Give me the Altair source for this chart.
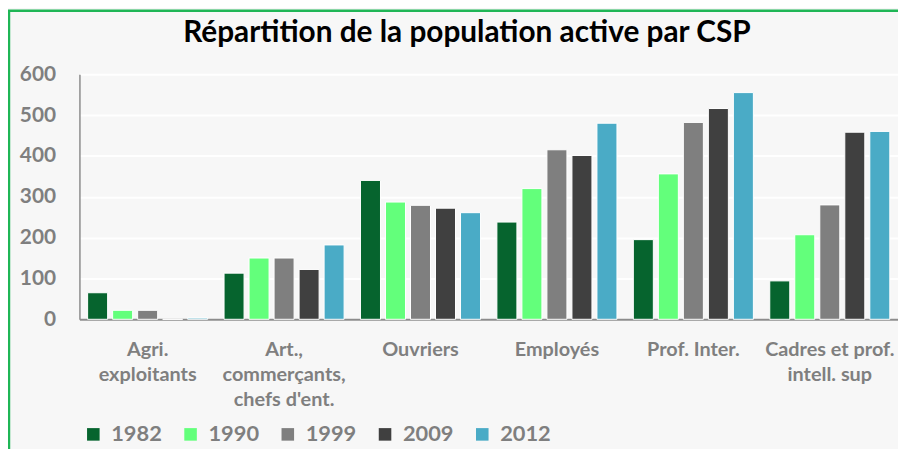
import altair as alt
import pandas as pd

categories = ["Agri.|exploitants", "Art.,|commerçants,|chefs d'ent.", "Ouvriers",
              "Employés", "Prof. Inter.", "Cadres et prof.|intell. sup"]
years = ["1982", "1990", "1999", "2009", "2012"]
v1982 = [65, 113, 340, 238, 195, 94]
v1990 = [22, 150, 287, 320, 356, 207]
v1999 = [22, 150, 279, 415, 482, 280]
v2009 = [0, 122, 272, 401, 516, 458]
v2012 = [3, 182, 261, 480, 555, 460]
colors = ["#06642e", "#63ff7b", "#7f7f7f", "#404040", "#4aabc6"]

series = [v1982, v1990, v1999, v2009, v2012]
rows = []
for y, vals in zip(years, series):
    for c, v in zip(categories, vals):
        rows.append({"cat": c, "year": y, "value": v})
df = pd.DataFrame(rows)

FONT = "Lato"
W, H = 825, 247

bars = alt.Chart(df).mark_bar(stroke="white", strokeWidth=1).encode(
    x=alt.X("cat:N", sort=categories, title=None,
            scale=alt.Scale(paddingInner=0.12, paddingOuter=0.06),
            axis=alt.Axis(labelAngle=0, labelExpr="split(datum.label, '|')",
                          labelFont=FONT, labelFontSize=20, labelFontWeight="bold",
                          labelColor="#7f7f7f", labelLineHeight=25, labelBaseline="top",
                          labelPadding=21, ticks=False, domainColor="#8c8c8c",
                          domainWidth=2, grid=False)),
    xOffset=alt.XOffset("year:N", sort=years,
                        scale=alt.Scale(paddingInner=0.2, paddingOuter=0.0)),
    y=alt.Y("value:Q", title=None,
            scale=alt.Scale(domain=[0, 600], nice=False),
            axis=alt.Axis(values=[0, 100, 200, 300, 400, 500, 600],
                          labelFont=FONT, labelFontSize=21, labelFontWeight="bold",
                          labelColor="#7f7f7f", labelPadding=24, ticks=False,
                          domainColor="#8c8c8c", domainWidth=1.5,
                          gridColor="white", gridWidth=2)),
    color=alt.Color("year:N", sort=years,
                    scale=alt.Scale(domain=years, range=colors),
                    legend=alt.Legend(title=None, orient="none", direction="horizontal",
                                      legendX=3, legendY=352, symbolType="square",
                                      symbolSize=160, symbolStrokeWidth=0,
                                      labelFont=FONT, labelFontSize=22,
                                      labelFontWeight="bold", labelColor="#7f7f7f",
                                      labelOffset=7, columnPadding=17)),
)

border = alt.Chart(pd.DataFrame({"a": [0]})).mark_rect(
    fill="transparent", stroke="#1fb656", strokeWidth=2.5
).encode(x=alt.value(-71), y=alt.value(-64), x2=alt.value(W + 60), y2=alt.value(H + 300))

chart = alt.layer(bars, border).properties(
    width=W, height=H,
    autosize=alt.AutoSizeParams(type="none"),
    padding={"left": 72, "top": 65, "right": 0, "bottom": 129},
    background="#f7f7f7",
    title=alt.TitleParams(text="Répartition de la population active par CSP",
                          font=FONT, fontSize=30, fontWeight="bold", color="black",
                          anchor="middle", frame="group", dx=-22, offset=0, dy=39),
).configure_view(stroke=None, fill="#f7f7f7")

chart.save("out.html", embed_options={"renderer": "svg", "actions": False})
